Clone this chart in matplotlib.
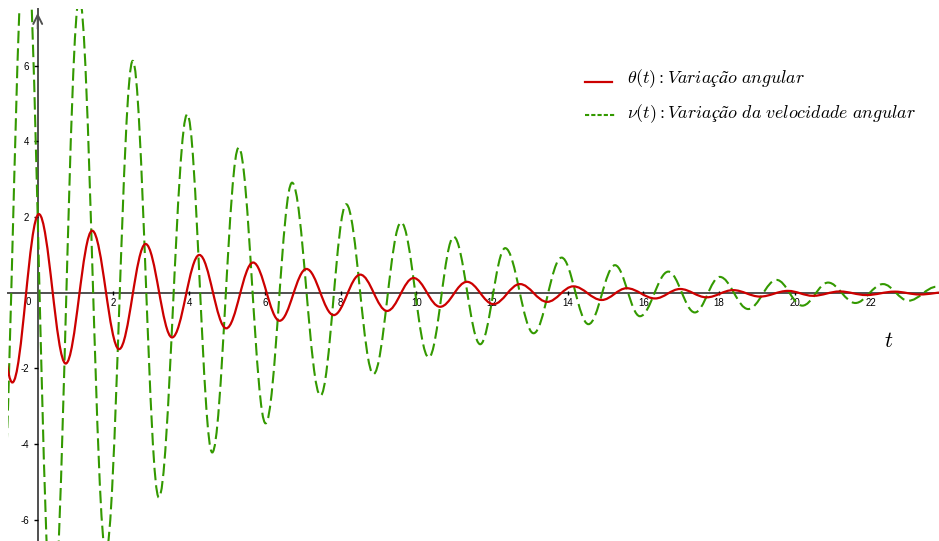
import matplotlib.pyplot as plt
from matplotlib.path import Path
from matplotlib.patches import PathPatch
from matplotlib.lines import Line2D

plt.rcParams['mathtext.fontset'] = 'cm'

# Extremes (t, value), peaks and troughs alternating.
# The first/last ones lie just outside the visible window.
theta_t = [-1.38, -0.67, 0.03, 0.74, 1.44, 2.15, 2.85, 3.55, 4.27, 4.98, 5.69,
           6.39, 7.10, 7.82, 8.52, 9.23, 9.93, 10.63, 11.34, 12.04, 12.74,
           13.46, 14.15, 14.90, 15.56, 16.31, 16.97, 17.67, 18.37, 19.08,
           19.82, 20.48, 21.19, 21.89, 22.64, 23.30, 24.05]
theta_y = [2.65, -2.37, 2.08, -1.87, 1.64, -1.49, 1.29, -1.18, 1.00, -0.94, 0.80,
           -0.74, 0.63, -0.59, 0.48, -0.48, 0.39, -0.37, 0.29, -0.30, 0.23,
           -0.24, 0.17, -0.19, 0.12, -0.15, 0.10, -0.12, 0.07, -0.10,
           0.05, -0.08, 0.035, -0.06, 0.03, -0.045, 0.02]

nu_t = [-1.00, -0.32, 0.39, 1.10, 1.80, 2.51, 3.20, 3.95, 4.61, 5.31, 6.02,
        6.72, 7.47, 8.15, 8.87, 9.60, 10.33, 10.99, 11.69, 12.35, 13.10,
        13.84, 14.55, 15.25, 15.91, 16.66, 17.36, 18.02, 18.77, 19.52, 20.20,
        20.88, 21.60, 22.33, 23.00, 23.75, 24.45]
nu_y = [-6.8, 9.8, -8.7, 7.8, -6.85, 6.13, -5.41, 4.72, -4.22, 3.84, -3.45,
        2.91, -2.72, 2.34, -2.15, 1.86, -1.71, 1.48, -1.36, 1.18, -1.07,
        0.93, -0.83, 0.73, -0.62, 0.56, -0.52, 0.42, -0.43, 0.34, -0.34,
        0.27, -0.27, 0.23, -0.21, 0.16, -0.13]

x_ticks = [2, 4, 6, 8, 10, 12, 14, 16, 18, 20, 22]
y_ticks = [-6, -4, -2, 2, 4, 6]

red = '#cc0000'
green = '#339900'
axis_col = '#505050'


# smooth path through the extremes (horizontal tangent at each one)
def wave_path(ts, ys, c=0.364):
    verts = [(ts[0], ys[0])]
    codes = [Path.MOVETO]
    for i in range(len(ts) - 1):
        dt = ts[i + 1] - ts[i]
        verts += [(ts[i] + c * dt, ys[i]), (ts[i + 1] - c * dt, ys[i + 1]),
                  (ts[i + 1], ys[i + 1])]
        codes += [Path.CURVE4] * 3
    return Path(verts, codes)


W, H = 939, 541
fig = plt.figure(figsize=(W / 100, H / 100), dpi=100)
ax = fig.add_axes([8 / W, 0, 931 / W, 532 / H])
ax.set_xlim(-0.785, 23.81)
ax.set_ylim(-6.56, 7.50)

for s in ['top', 'right']:
    ax.spines[s].set_visible(False)
for s in ['left', 'bottom']:
    ax.spines[s].set_position(('data', 0))
    ax.spines[s].set_color(axis_col)
    ax.spines[s].set_linewidth(1.4)
    ax.spines[s].set_zorder(1)

ax.annotate('', xy=(0, 7.47), xytext=(0, 6.9),
            arrowprops=dict(arrowstyle='->', color=axis_col, lw=1.4,
                            mutation_scale=16))

ax.set_xticks(x_ticks)
ax.set_yticks(y_ticks)
ax.set_xticklabels([str(v) for v in x_ticks])
ax.set_yticklabels(['-' + str(-v) if v < 0 else str(v) for v in y_ticks])
ax.tick_params(axis='x', direction='inout', length=3, width=1, color='black',
               pad=2, labelsize=7)
ax.tick_params(axis='y', direction='out', length=3, width=1, color='black',
               pad=3, labelsize=7)
for lab in ax.get_xticklabels() + ax.get_yticklabels():
    lab.set_family('Liberation Sans')
ax.text(-0.17, -0.12, '0', ha='right', va='top', fontsize=7,
        family='Liberation Sans')

ax.add_patch(PathPatch(wave_path(nu_t, nu_y), fill=False, edgecolor=green,
                       lw=1.5, linestyle=(0, (6, 2.4)), zorder=3))
ax.add_patch(PathPatch(wave_path(theta_t, theta_y), fill=False, edgecolor=red,
                       lw=1.6, zorder=4))

ax.text(22.49, -1.28, '$t$', ha='center', va='center', fontsize=16)

# legend, top right
def fx(px):
    return px / W


def fy(py):
    return 1 - py / H


fig.add_artist(Line2D([fx(585), fx(612)], [fy(82), fy(82)], color=red, lw=1.6))
fig.add_artist(Line2D([fx(585), fx(615)], [fy(115), fy(115)], color=green,
                      lw=1.5, linestyle=(0, (2, 1))))
fig.text(fx(627), fy(79), r'$\theta(t) : Variação\ angular$', ha='left',
         va='center', fontsize=12.9)
fig.text(fx(627), fy(114), r'$\nu(t) : Variação\ da\ velocidade\ angular$',
         ha='left', va='center', fontsize=12.9)

fig.savefig('out.png', dpi=100)
